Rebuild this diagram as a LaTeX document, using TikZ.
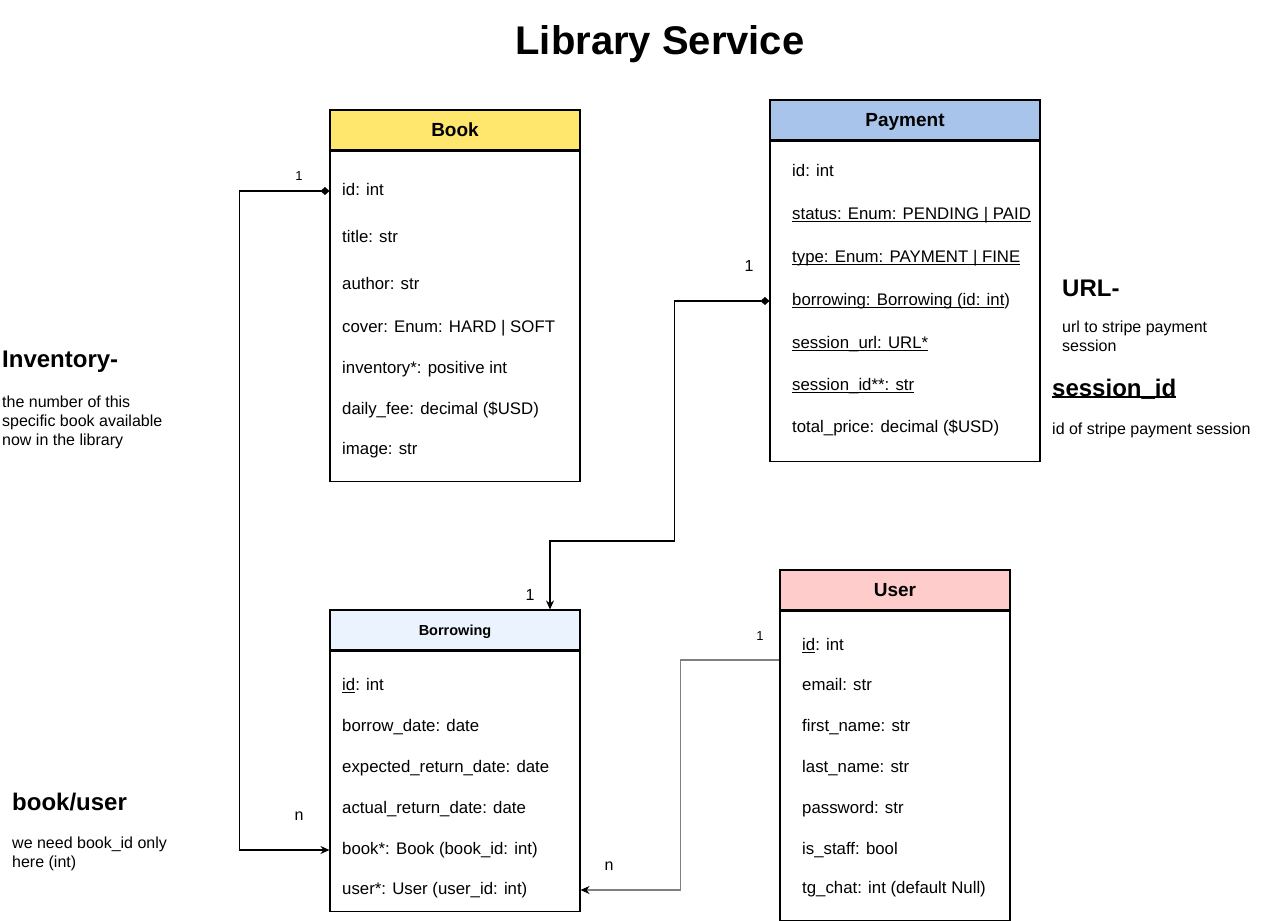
\documentclass[tikz,border=0pt]{standalone}
\usepackage{fontspec}
\setmainfont{Liberation Sans}
\usepackage{xcolor}
\usepackage{tikz}
\usetikzlibrary{positioning,calc,arrows.meta}

\definecolor{bookhead}{HTML}{FFE66D}
\definecolor{payhead}{HTML}{A9C4EB}
\definecolor{borhead}{HTML}{EBF3FF}
\definecolor{userhead}{HTML}{FFCCCC}

\newsavebox{\ulbox}
\newcommand{\ulfix}[2][0.9pt]{\sbox{\ulbox}{#2}\rlap{\rule[-2.2pt]{\wd\ulbox}{#1}}\usebox{\ulbox}}

\tikzset{
  hdr/.style={draw, line width=1.1pt, minimum height=40pt, inner sep=0pt, text height=13.6pt, text depth=0pt, font=\bfseries\fontsize{19}{23}\selectfont},
  tbody/.style={draw, line width=1.1pt, anchor=north, inner sep=0pt},
  attr/.style={anchor=west, inner sep=0pt, yshift=-1pt, text height=12pt, text depth=3.5pt, font=\fontsize{16.8}{20}\selectfont},
  note/.style={anchor=north west, inner sep=0pt, align=left, font=\fontsize{16}{19}\selectfont},
  notehead/.style={anchor=west, inner sep=0pt, font=\bfseries\fontsize{24}{29}\selectfont},
  mult/.style={inner sep=0pt, font=\fontsize{16}{19}\selectfont},
  smallmult/.style={inner sep=0pt, font=\fontsize{13}{15}\selectfont},
  link/.style={line width=1.2pt, {Diamond[length=9pt,width=8pt]}-{Stealth[length=9pt,width=8pt]}},
  userlink/.style={line width=1.2pt, draw=gray, -{Stealth[length=9pt,width=8pt,black]}}
}

\begin{document}
\begin{tikzpicture}[x=1pt,y=-1pt]
    \useasboundingbox (0,0) rectangle (1270,921);

    % Title
    \node[font=\bfseries\fontsize{40}{48}\selectfont] (title) at (660,44) {Library Service};

    % Book table
    \node[hdr, fill=bookhead, minimum width=250pt] (book) at (455,130) {Book};
    \node[tbody, minimum width=250pt, minimum height=330pt] (bookbody) at (book.south) {};
    \node[attr] (bid) at (342,190) {id: int};
    \node[attr] (btitle) at (342,237) {title: str};
    \node[attr] (bauthor) at (342,284) {author: str};
    \node[attr] (bcover) at (342,327) {cover: Enum: HARD | SOFT};
    \node[attr] (binv) at (342,368) {inventory*: positive int};
    \node[attr] (bfee) at (342,409) {daily\_fee: decimal (\$USD)};
    \node[attr] (bimage) at (342,449) {image: str};

    % Payment table
    \node[hdr, fill=payhead, minimum width=270pt] (pay) at (905,120) {Payment};
    \node[tbody, minimum width=270pt, minimum height=320pt] (paybody) at (pay.south) {};
    \node[attr] (pid) at (792,171) {id: int};
    \node[attr] (pstatus) at (792,214) {\ulfix{status: Enum: PENDING | PAID}};
    \node[attr] (ptype) at (792,257) {\ulfix{type: Enum: PAYMENT | FINE}};
    \node[attr] (pbor) at (792,300) {\ulfix{borrowing: Borrowing (id: int})};
    \node[attr] (purl) at (792,343) {\ulfix{session\_url: URL*}};
    \node[attr] (psid) at (792,385) {\ulfix{session\_id**: str}};
    \node[attr] (ptotal) at (792,427) {total\_price: decimal (\$USD)};

    % Borrowing table
    \node[hdr, fill=borhead, minimum width=250pt, text height=10.4pt, font=\bfseries\fontsize{14.5}{17}\selectfont] (borrow) at (455,630) {Borrowing};
    \node[tbody, minimum width=250pt, minimum height=260pt] (borbody) at (borrow.south) {};
    \node[attr] (bbid) at (342,685) {\ulfix{id}: int};
    \node[attr] (bbdate) at (342,726) {borrow\_date: date};
    \node[attr] (bexp) at (342,767) {expected\_return\_date: date};
    \node[attr] (bact) at (342,808) {actual\_return\_date: date};
    \node[attr] (bbook) at (342,849) {book*: Book (book\_id: int)};
    \node[attr] (buser) at (342,889) {user*: User (user\_id: int)};

    % User table
    \node[hdr, fill=userhead, minimum width=230pt] (user) at (895,590) {User};
    \node[tbody, minimum width=230pt, minimum height=309pt] (userbody) at (user.south) {};
    \node[attr] (uid) at (802,645) {\ulfix{id}: int};
    \node[attr] (uemail) at (802,685) {email: str};
    \node[attr] (ufirst) at (802,726) {first\_name: str};
    \node[attr] (ulast) at (802,767) {last\_name: str};
    \node[attr] (upass) at (802,808) {password: str};
    \node[attr] (ustaff) at (802,849) {is\_staff: bool};
    \node[attr] (uchat) at (802,888) {tg\_chat: int (default Null)};

    % Notes
    \node[notehead] (invhead) at (2,362) {Inventory-};
    \node[note] (invtext) at (2,396) {the number of this\\specific book available\\now in the library};
    \node[notehead] (buhead) at (12,802) {book/user};
    \node[note] (butext) at (12,837) {we need book\_id only\\here (int)};
    \node[notehead] (urlhead) at (1062,288) {URL-};
    \node[note] (urltext) at (1062,321) {url to stripe payment\\session};
    \node[notehead] (sidhead) at (1052,389) {\ulfix[2pt]{session\_id}};
    \node[note] (sidtext) at (1052,423) {id of stripe payment session};

    % Links
    \draw[link] (bookbody.west |- bid) -- ++(-90,0) |- (borbody.west |- bbook);
    \draw[link] (paybody.west |- pbor) -- ++(-95,0) -- ++(0,240) -| ([xshift=95pt]borrow.north);
    \coordinate (ulink) at ($(userbody.west |- uid)+(0,14)$);
    \draw[userlink] (ulink) -- ++(-99,0) |- (borbody.east |- buser);

    % Multiplicities
    \node[smallmult] (m1) at (299,176) {1};
    \node[mult] (m2) at (299,816) {n};
    \node[mult] (m3) at (749,266) {1};
    \node[mult] (m4) at (530,595) {1};
    \node[smallmult] (m5) at (760,636) {1};
    \node[mult] (m6) at (609,866) {n};

\end{tikzpicture}
\end{document}
